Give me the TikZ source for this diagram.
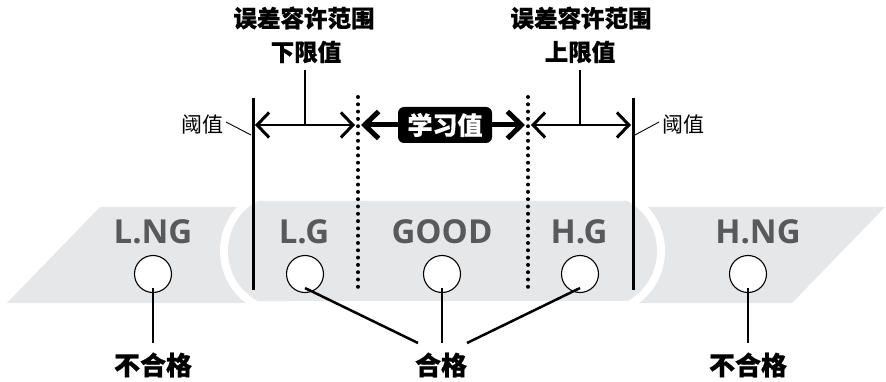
\documentclass[tikz,border=0pt]{standalone}
\usepackage{fontspec}
\newfontfamily\cjk{Noto Sans CJK SC}[BoldFeatures={FakeBold=0.6}]
\newfontfamily\lat{Open Sans}
\usetikzlibrary{arrows.meta}
\definecolor{bandgray}{HTML}{E6E7E8}
\definecolor{txtgray}{HTML}{58595B}
\tikzset{
  band/.style={fill=bandgray, draw=none},
  zone/.style={font=\lat\bfseries\fontsize{33}{33}\selectfont, text=txtgray, inner sep=0pt},
  title/.style={font=\cjk\bfseries\fontsize{23.5}{23.5}\selectfont, inner sep=0pt},
  result/.style={font=\cjk\bfseries\fontsize{26}{26}\selectfont, inner sep=0pt},
  thr/.style={font=\cjk\fontsize{21}{21}\selectfont, inner sep=0pt},
  lamp/.style={circle, draw=black, fill=white, line width=1.1pt, minimum size=37pt, inner sep=0pt},
  limit/.style={line width=3pt},
  divider/.style={line width=4pt, dash pattern=on 0pt off 7.3pt, line cap=round},
  thinarrow/.style={line width=2.5pt, {Straight Barb[length=12pt,width=25pt,line width=3pt]}-{Straight Barb[length=12pt,width=25pt,line width=3pt]}},
  boldarrow/.style={line width=5pt, -{Straight Barb[length=14pt,width=27pt,line width=5pt]}},
  wire/.style={line width=2.5pt},
  leader/.style={line width=0.9pt}
}
\begin{document}
\begin{tikzpicture}[x=1pt, y=-1pt]
\useasboundingbox (0,0) rectangle (886,382);
% side bands
\fill[band] (100,207) -- (300,207) -- (300,303) -- (7,303) -- cycle;
\fill[band] (600,207) -- (885,207) -- (792,303) -- (600,303) -- cycle;
% central capsule with white gap
\path[band, preaction={draw=white, line width=16pt}]
  (257.6,201) -- (627.4,201) arc[start angle=-61.3, end angle=61.3, radius=57]
  -- (257.6,301) arc[start angle=118.7, end angle=241.3, radius=57] -- cycle;
% zone labels
\node[zone] (lng) at (153,232) {L.NG};
\node[zone] (lg) at (304,232) {L.G};
\node[zone] (good) at (442,232) {GOOD};
\node[zone] (hg) at (579,232) {H.G};
\node[zone] (hng) at (758,232) {H.NG};
% limit lines
\coordinate (lt) at (253,98); \coordinate (lb) at (253,290);
\coordinate (rt) at (633,98); \coordinate (rb) at (633,290);
\draw[limit] (lt) -- (lb);
\draw[limit] (rt) -- (rb);
% dotted dividers
\coordinate (dlt) at (358,97); \coordinate (dlb) at (358,290);
\coordinate (drt) at (528,97); \coordinate (drb) at (528,290);
\draw[divider] (dlt) -- (dlb);
\draw[divider] (drt) -- (drb);
% tolerance arrows
\coordinate (a1) at (255,125); \coordinate (a2) at (355,125);
\coordinate (a3) at (531,125); \coordinate (a4) at (631,125);
\draw[thinarrow] (a1) -- (a2);
\draw[thinarrow] (a3) -- (a4);
% learned value
\node[fill=black, rounded corners=6pt, text=white, font=\cjk\bfseries\fontsize{25}{25}\selectfont,
      minimum width=94pt, minimum height=36pt, inner sep=0pt] (lv) at (445,125) {学习值};
\coordinate (b1) at (361,125); \coordinate (b2) at (525,125);
\draw[boldarrow] (lv.west) -- (b1);
\draw[boldarrow] (lv.east) -- (b2);
% titles
\node[title] (t1) at (304,18) {误差容许范围};
\node[title] (t2) at (306,52) {下限值};
\node[title] (t3) at (581,18) {误差容许范围};
\node[title] (t4) at (580,52) {上限值};
\coordinate (s1a) at (305,70); \coordinate (s1b) at (305,125);
\coordinate (s2a) at (580,70); \coordinate (s2b) at (580,125);
\draw[wire] (s1a) -- (s1b);
\draw[wire] (s2a) -- (s2b);
% thresholds
\node[thr] (th1) at (202,125) {阈值};
\node[thr] (th2) at (683,125) {阈值};
\coordinate (l1a) at (226,122); \coordinate (l1b) at (251,135);
\coordinate (l2a) at (659,122); \coordinate (l2b) at (635,135);
\draw[leader] (l1a) -- (l1b);
\draw[leader] (l2a) -- (l2b);
% lamps
\node[lamp] (c1) at (153,274) {};
\node[lamp] (c2) at (305,274) {};
\node[lamp] (c3) at (442,274) {};
\node[lamp] (c4) at (580,274) {};
\node[lamp] (c5) at (748,274) {};
% results
\node[result] (r1) at (153,365) {不合格};
\node[result] (r2) at (441,365) {合格};
\node[result] (r3) at (748,365) {不合格};
\coordinate (e1) at (153,343);
\coordinate (e2) at (418,343);
\coordinate (e3) at (442,343);
\coordinate (e4) at (467,343);
\coordinate (e5) at (748,343);
\draw[wire] ([yshift=5pt]c1.south) -- (e1);
\draw[wire] ([yshift=5pt]c2.south) -- (e2);
\draw[wire] ([yshift=5pt]c3.south) -- (e3);
\draw[wire] ([yshift=5pt]c4.south) -- (e4);
\draw[wire] ([yshift=5pt]c5.south) -- (e5);
\end{tikzpicture}
\end{document}
